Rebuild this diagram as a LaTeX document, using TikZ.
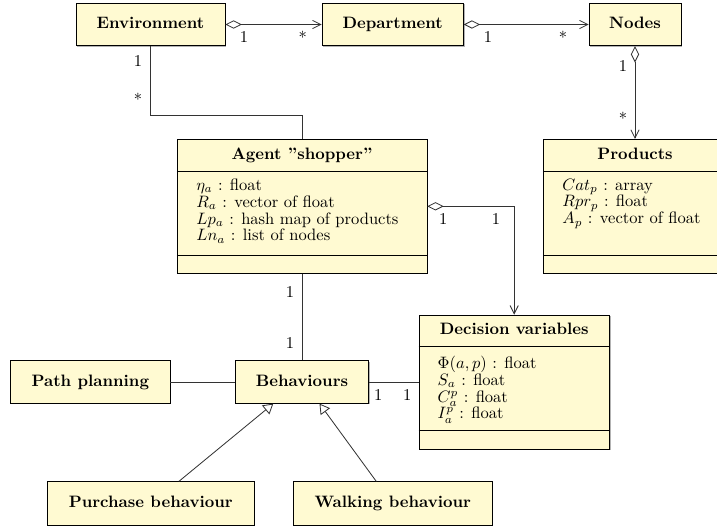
\documentclass[tikz,border=0pt]{standalone}
\usetikzlibrary{arrows.meta,shadows}
\definecolor{classFill}{RGB}{255,250,210}
\newcommand{\pxu}{0.6053pt}
\tikzset{
	classbox/.style={draw=black, fill=classFill, inner sep=0pt,
		drop shadow={shadow xshift=0.7pt, shadow yshift=-0.7pt, fill=black!50, opacity=0.6}},
	boxsize/.style 2 args={minimum width=#1*\pxu, minimum height=#2*\pxu},
	classname/.style={font=\bfseries, text height=6.94pt, text depth=1.94pt},
	attrs/.style={anchor=north west, align=left, inner sep=0pt,
		font={\fontsize{10}{10.2}\selectfont\lineskiplimit=-5pt}},
	link/.style={draw=black!80, line width=0.5pt},
	aggr/.style={link, {Diamond[open,length=10pt,width=5pt]}-{Straight Barb[length=5pt,width=5pt]}},
	inherit/.style={link, -{Triangle[open,length=6pt,width=7pt]}},
	mult/.style={inner sep=0pt}
}

\begin{document}
\begin{tikzpicture}[x=0.6053pt, y=-0.6053pt]
		\useasboundingbox (0, 0) rectangle (717, 526);

		% top row
		\node[classbox, classname, boxsize={149}{42.4}] (env) at (150.5, 24.5) {Environment};
		\node[classbox, classname, boxsize={141.3}{42.4}] (dept) at (392.7, 24.5) {Department};
		\node[classbox, classname, boxsize={92}{42.4}] (nodes) at (635, 24.5) {Nodes};

		% classes with attributes
		\node[classbox, boxsize={249.7}{134}] (agent) at (302, 206.3) {};
		\node[classbox, boxsize={183.4}{134}] (prod) at (635, 206.3) {};
		\node[classbox, boxsize={190.3}{134}] (dv) at (514.2, 382) {};
		\foreach \c in {agent, prod, dv} {
			\draw ([yshift=-19.4pt]\c.north west) -- ([yshift=-19.4pt]\c.north east);
			\draw ([yshift=11.3pt]\c.south west) -- ([yshift=11.3pt]\c.south east);
		}
		\node[classname] (agentname) at ([yshift=-9.7pt]agent.north) {Agent ”shopper”};
		\node[classname] (prodname) at ([yshift=-9.7pt]prod.north) {Products};
		\node[classname] (dvname) at ([yshift=-9.7pt]dv.north) {Decision variables};
		\node[attrs] (agentattr) at ([xshift=11.6pt, yshift=-23.9pt]agent.north west)
			{$\eta_a$ : float\\ $R_a$ : vector of float\\ $Lp_a$ : hash map of products\\ $Ln_a$ : list of nodes};
		\node[attrs] (prodattr) at ([xshift=11.6pt, yshift=-23.9pt]prod.north west)
			{$Cat_p$ : array\\ $Rpr_p$ : float\\ $A_p$ : vector of float};
		\node[attrs] (dvattr) at ([xshift=11.3pt, yshift=-24.8pt]dv.north west)
			{$\Phi(a,p)$ : float\\ $S_a$ : float\\ $C_a^p$ : float\\ $I_a^p$ : float};

		% behaviours
		\node[classbox, classname, boxsize={159.3}{42.6}] (path) at (90.3, 382) {Path planning};
		\node[classbox, classname, boxsize={133.3}{42.6}] (beh) at (302, 382) {Behaviours};
		\node[classbox, classname, boxsize={206.3}{43.3}] (purch) at (150.8, 503.3) {Purchase behaviour};
		\node[classbox, classname, boxsize={199}{43.3}] (walk) at (392.8, 503.3) {Walking behaviour};

		% associations
		\coordinate (envbend) at (150.5, 115.3);
		\draw[aggr] (env.east) -- (dept.west);
		\draw[aggr] (dept.east) -- (nodes.west);
		\draw[aggr] (nodes.south) -- (prod.north);
		\draw[aggr] (agent.east) -| (dv.north);
		\draw[link] (env.south) -- (envbend) -| (agent.north);
		\draw[link] (agent.south) -- (beh.north);
		\draw[link] (path.east) -- (beh.west);
		\draw[link] (beh.east) -- (dv.west);
		\draw[inherit] (purch.38) -- (beh.217);
		\draw[inherit] (walk.127) -- (beh.-51);

		% multiplicities
		\node[mult] (m1) at (244, 37) {1};
		\node[mult] (m2) at (302.7, 37) {*};
		\node[mult] (m3) at (488, 37) {1};
		\node[mult] (m4) at (563, 37) {*};
		\node[mult] (m5) at (623, 66) {1};
		\node[mult] (m6) at (623, 118) {*};
		\node[mult] (m7) at (138, 61) {1};
		\node[mult] (m8) at (138, 99) {*};
		\node[mult] (m9) at (443.3, 219.3) {1};
		\node[mult] (m10) at (496, 219.3) {1};
		\node[mult] (m11) at (290, 291.7) {1};
		\node[mult] (m12) at (290, 342.7) {1};
		\node[mult] (m13) at (378.3, 395) {1};
		\node[mult] (m14) at (407.3, 395) {1};
	\end{tikzpicture}
\end{document}
